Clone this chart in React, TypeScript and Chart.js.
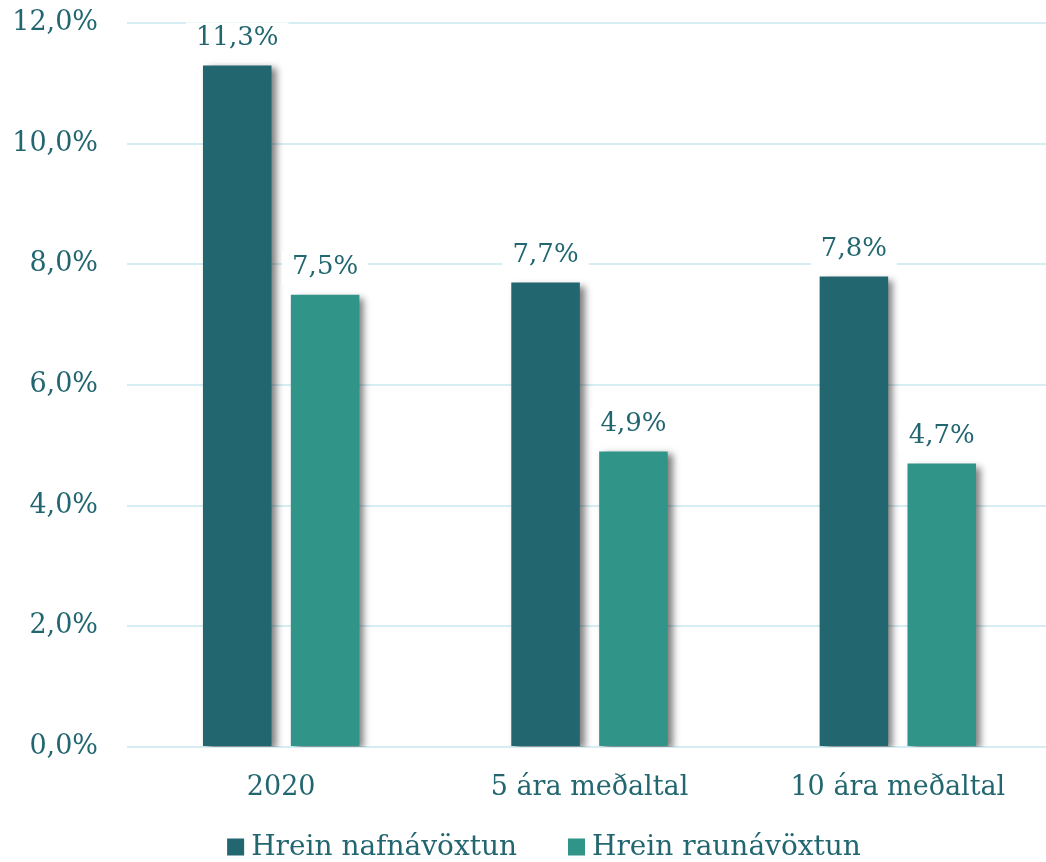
import React, { useEffect, useRef } from "react";
import { Chart, registerables } from "chart.js";

Chart.register(...registerables);

const categories = ["2020", "5 ára meðaltal", "10 ára meðaltal"];
const seriesNames = ["Hrein nafnávöxtun", "Hrein raunávöxtun"];
const nominal = [11.3, 7.7, 7.8];
const real = [7.5, 4.9, 4.7];
const colors = ["#226670", "#319488"];
const textColor = "#226670";
const gridColor = "#d6eef3";
const FONT = "'DejaVu Serif', 'Liberation Serif', serif";
const FS = 26;
const SHIFT = 22;

const fmt = (v: number) => v.toFixed(1).replace(".", ",") + "%";

const barPlugin = {
  id: "barDecor",
  beforeDatasetsDraw(chart: any) {
    const ctx = chart.ctx;
    ctx.save();
    ctx.shadowColor = "rgba(0,0,0,0.5)";
    ctx.shadowBlur = 7;
    ctx.shadowOffsetX = 5;
    ctx.shadowOffsetY = 3;
  },
  afterDatasetsDraw(chart: any) {
    const ctx = chart.ctx;
    ctx.restore();
    ctx.save();
    ctx.font = `${FS}px ${FONT}`;
    ctx.textAlign = "center";
    ctx.textBaseline = "middle";
    chart.data.datasets.forEach((ds: any, di: number) => {
      const meta = chart.getDatasetMeta(di);
      meta.data.forEach((el: any, i: number) => {
        const txt = fmt(ds.data[i]);
        const w = ctx.measureText(txt).width;
        const cy = el.y - 27;
        ctx.fillStyle = "#ffffff";
        ctx.fillRect(el.x - w / 2 - 10, cy - 16, w + 20, 32);
        ctx.fillStyle = textColor;
        ctx.fillText(txt, el.x, cy);
      });
    });
    // legend
    ctx.font = `28px ${FONT}`;
    const items = chart.data.datasets.map((d: any) => ({ label: d.label, color: d.backgroundColor }));
    const box = 17;
    const gapBoxText = 7;
    const gapItems = 51;
    const widths = items.map((it: any) => box + gapBoxText + ctx.measureText(it.label).width);
    const total = widths.reduce((a: number, b: number) => a + b, 0) + gapItems * (items.length - 1);
    let x = 544 - total / 2;
    const cy = 847 + SHIFT;
    ctx.textAlign = "left";
    items.forEach((it: any, k: number) => {
      ctx.fillStyle = it.color;
      ctx.fillRect(x, cy - box / 2, box, box);
      ctx.fillStyle = textColor;
      ctx.fillText(it.label, x + box + gapBoxText, cy + 1);
      x += widths[k] + gapItems;
    });
    ctx.restore();
  },
};

export default function App() {
  const ref = useRef<HTMLCanvasElement>(null);
  useEffect(() => {
    if (!ref.current) return;
    const chart = new Chart(ref.current, {
      type: "bar",
      data: {
        labels: categories,
        datasets: [
          { label: seriesNames[0], data: nominal, backgroundColor: colors[0], barPercentage: 0.78, categoryPercentage: 0.57 },
          { label: seriesNames[1], data: real, backgroundColor: colors[1], barPercentage: 0.78, categoryPercentage: 0.57 },
        ],
      },
      options: {
        responsive: false,
        animation: false,
        layout: { padding: { top: 0, left: 0, right: 0, bottom: 0 } },
        plugins: { legend: { display: false }, tooltip: { enabled: false } },
        scales: {
          x: {
            grid: { display: false },
            border: { display: false },
            ticks: { color: textColor, font: { family: FONT, size: 27 }, padding: 17 },
            afterFit: (s: any) => { s.height = 115; },
          },
          y: {
            min: 0,
            max: 12,
            ticks: { stepSize: 2, color: textColor, font: { family: FONT, size: 27 }, padding: 29, callback: (v: any) => fmt(Number(v)) },
            grid: { color: gridColor, lineWidth: 2, drawTicks: false },
            border: { display: false },
            afterFit: (s: any) => { s.width = 127; },
          },
        },
      },
      plugins: [barPlugin],
    });
    return () => chart.destroy();
  }, []);
  return (
    <div style={{ position: "absolute", left: 0, top: 0, width: 1046, height: 862, overflow: "hidden", background: "#fff" }}>
      <canvas ref={ref} width={1052} height={862 + SHIFT} style={{ display: "block", marginTop: -SHIFT }} />
    </div>
  );
}
